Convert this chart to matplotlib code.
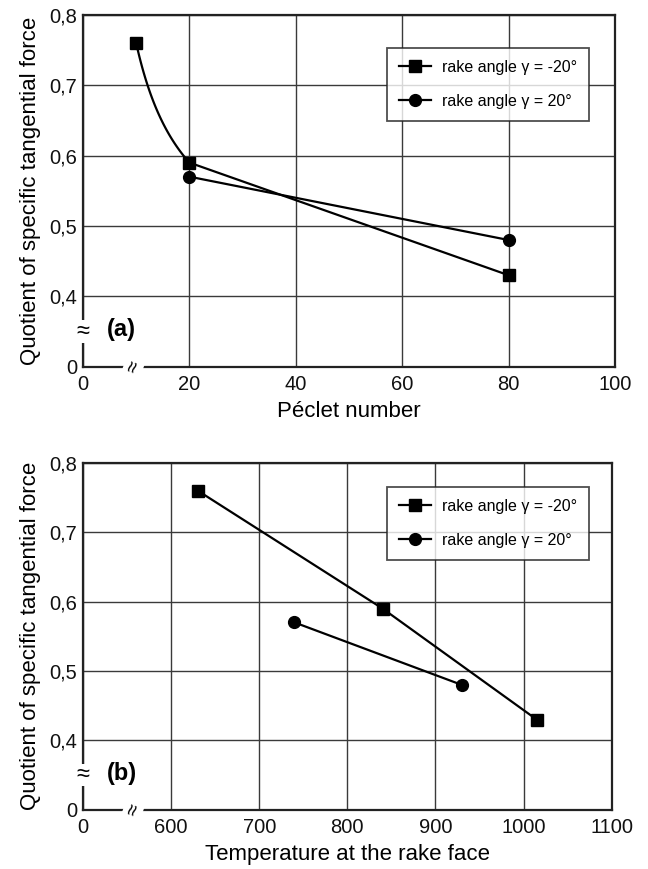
import numpy as np
import matplotlib
matplotlib.use("Agg")
import matplotlib.pyplot as plt

plt.rcParams["font.family"] = ["Liberation Sans", "DejaVu Sans"]

# panel (a): Peclet number
pe_neg = [10, 20, 80]
q_neg_a = [0.76, 0.59, 0.43]
pe_pos = [20, 80]
q_pos_a = [0.57, 0.48]

# panel (b): temperature at the rake face
temp_neg = [630, 840, 1015]
q_neg_b = [0.76, 0.59, 0.43]
temp_pos = [740, 930]
q_pos_b = [0.57, 0.48]

y_ticks = [0.3, 0.4, 0.5, 0.6, 0.7, 0.8]
y_ticklabels = ["0", "0,4", "0,5", "0,6", "0,7", "0,8"]
xa_ticks = [0, 20, 40, 60, 80, 100]
xb_ticks = [500, 600, 700, 800, 900, 1000, 1100]
xb_ticklabels = ["0", "600", "700", "800", "900", "1000", "1100"]

labels = ["rake angle \u03b3 = -20\u00b0", "rake angle \u03b3 = 20\u00b0"]


def curved(xs, ys, n=80):
    # first segment hyperbolic (linear in 1/x), rest straight
    x0, x1 = xs[0], xs[1]
    xx = np.linspace(x0, x1, n)
    t = (1 / xx - 1 / x1) / (1 / x0 - 1 / x1)
    yy = ys[1] + (ys[0] - ys[1]) * t
    return np.r_[xx, xs[2:]], np.r_[yy, ys[2:]]


def style_axes(ax, xticks, xticklabels, xlabel, tag, xbreak, legend_xy):
    ax.set_ylim(0.3, 0.8)
    ax.set_yticks(y_ticks)
    ax.set_yticklabels(y_ticklabels)
    ax.set_xticks(xticks)
    ax.set_xticklabels(xticklabels)
    ax.set_xlim(xticks[0], xticks[-1])
    ax.grid(True, color="#3a3a3a", linewidth=1.0)
    ax.tick_params(length=0, labelsize=14.5, colors="#111111")
    ax.tick_params(axis="x", pad=6)
    ax.tick_params(axis="y", pad=4)
    for s in ax.spines.values():
        s.set_linewidth(1.6)
        s.set_color("#222222")
    ax.set_xlabel(xlabel, fontsize=16, labelpad=5)
    ax.set_ylabel("Quotient of specific tangential force", fontsize=16,
                  labelpad=6)
    ax.text(0.045, 0.105, tag, transform=ax.transAxes, fontsize=17,
            fontweight="bold", va="center", ha="left")
    # axis break marks
    ax.text(0.0, 0.1, "\u2248", transform=ax.transAxes, fontsize=17,
            ha="center", va="center",
            bbox=dict(facecolor="white", edgecolor="none", pad=0.1))
    ax.text(xbreak, 0.0, "\u2248", transform=ax.transAxes, fontsize=15,
            ha="center", va="center", rotation=70,
            bbox=dict(facecolor="white", edgecolor="none", pad=0.1))
    handles = [ax.plot([], [], "-s", color="black", lw=1.6, ms=9)[0],
               ax.plot([], [], "-o", color="black", lw=1.6, ms=8.5)[0]]
    leg = ax.legend(handles, labels, loc="upper left",
                    bbox_to_anchor=legend_xy, borderaxespad=0,
                    fontsize=11.5, fancybox=False, edgecolor="#222222",
                    handlelength=2.0, borderpad=0.75, labelspacing=1.2,
                    handletextpad=0.7)
    leg.get_frame().set_linewidth(1.3)


fig = plt.figure(figsize=(6.48, 8.69), dpi=100)

ax1 = fig.add_axes([0.128, 0.578, 0.821, 0.405])
cx, cy = curved(pe_neg, q_neg_a)
ax1.plot(cx, cy, color="black", lw=1.6)
ax1.plot(pe_neg, q_neg_a, "s", color="black", ms=9)
ax1.plot(pe_pos, q_pos_a, "-o", color="black", lw=1.6, ms=8.5)
style_axes(ax1, xa_ticks, [str(v) for v in xa_ticks], "P\u00e9clet number",
           "(a)", 0.095, (0.571, 0.906))

ax2 = fig.add_axes([0.128, 0.068, 0.816, 0.3995])
ax2.plot(temp_neg, q_neg_b, "-s", color="black", lw=1.6, ms=9)
ax2.plot(temp_pos, q_pos_b, "-o", color="black", lw=1.6, ms=8.5)
style_axes(ax2, xb_ticks, xb_ticklabels, "Temperature at the rake face",
           "(b)", 0.095, (0.575, 0.931))

fig.savefig("out.png", dpi=100)
